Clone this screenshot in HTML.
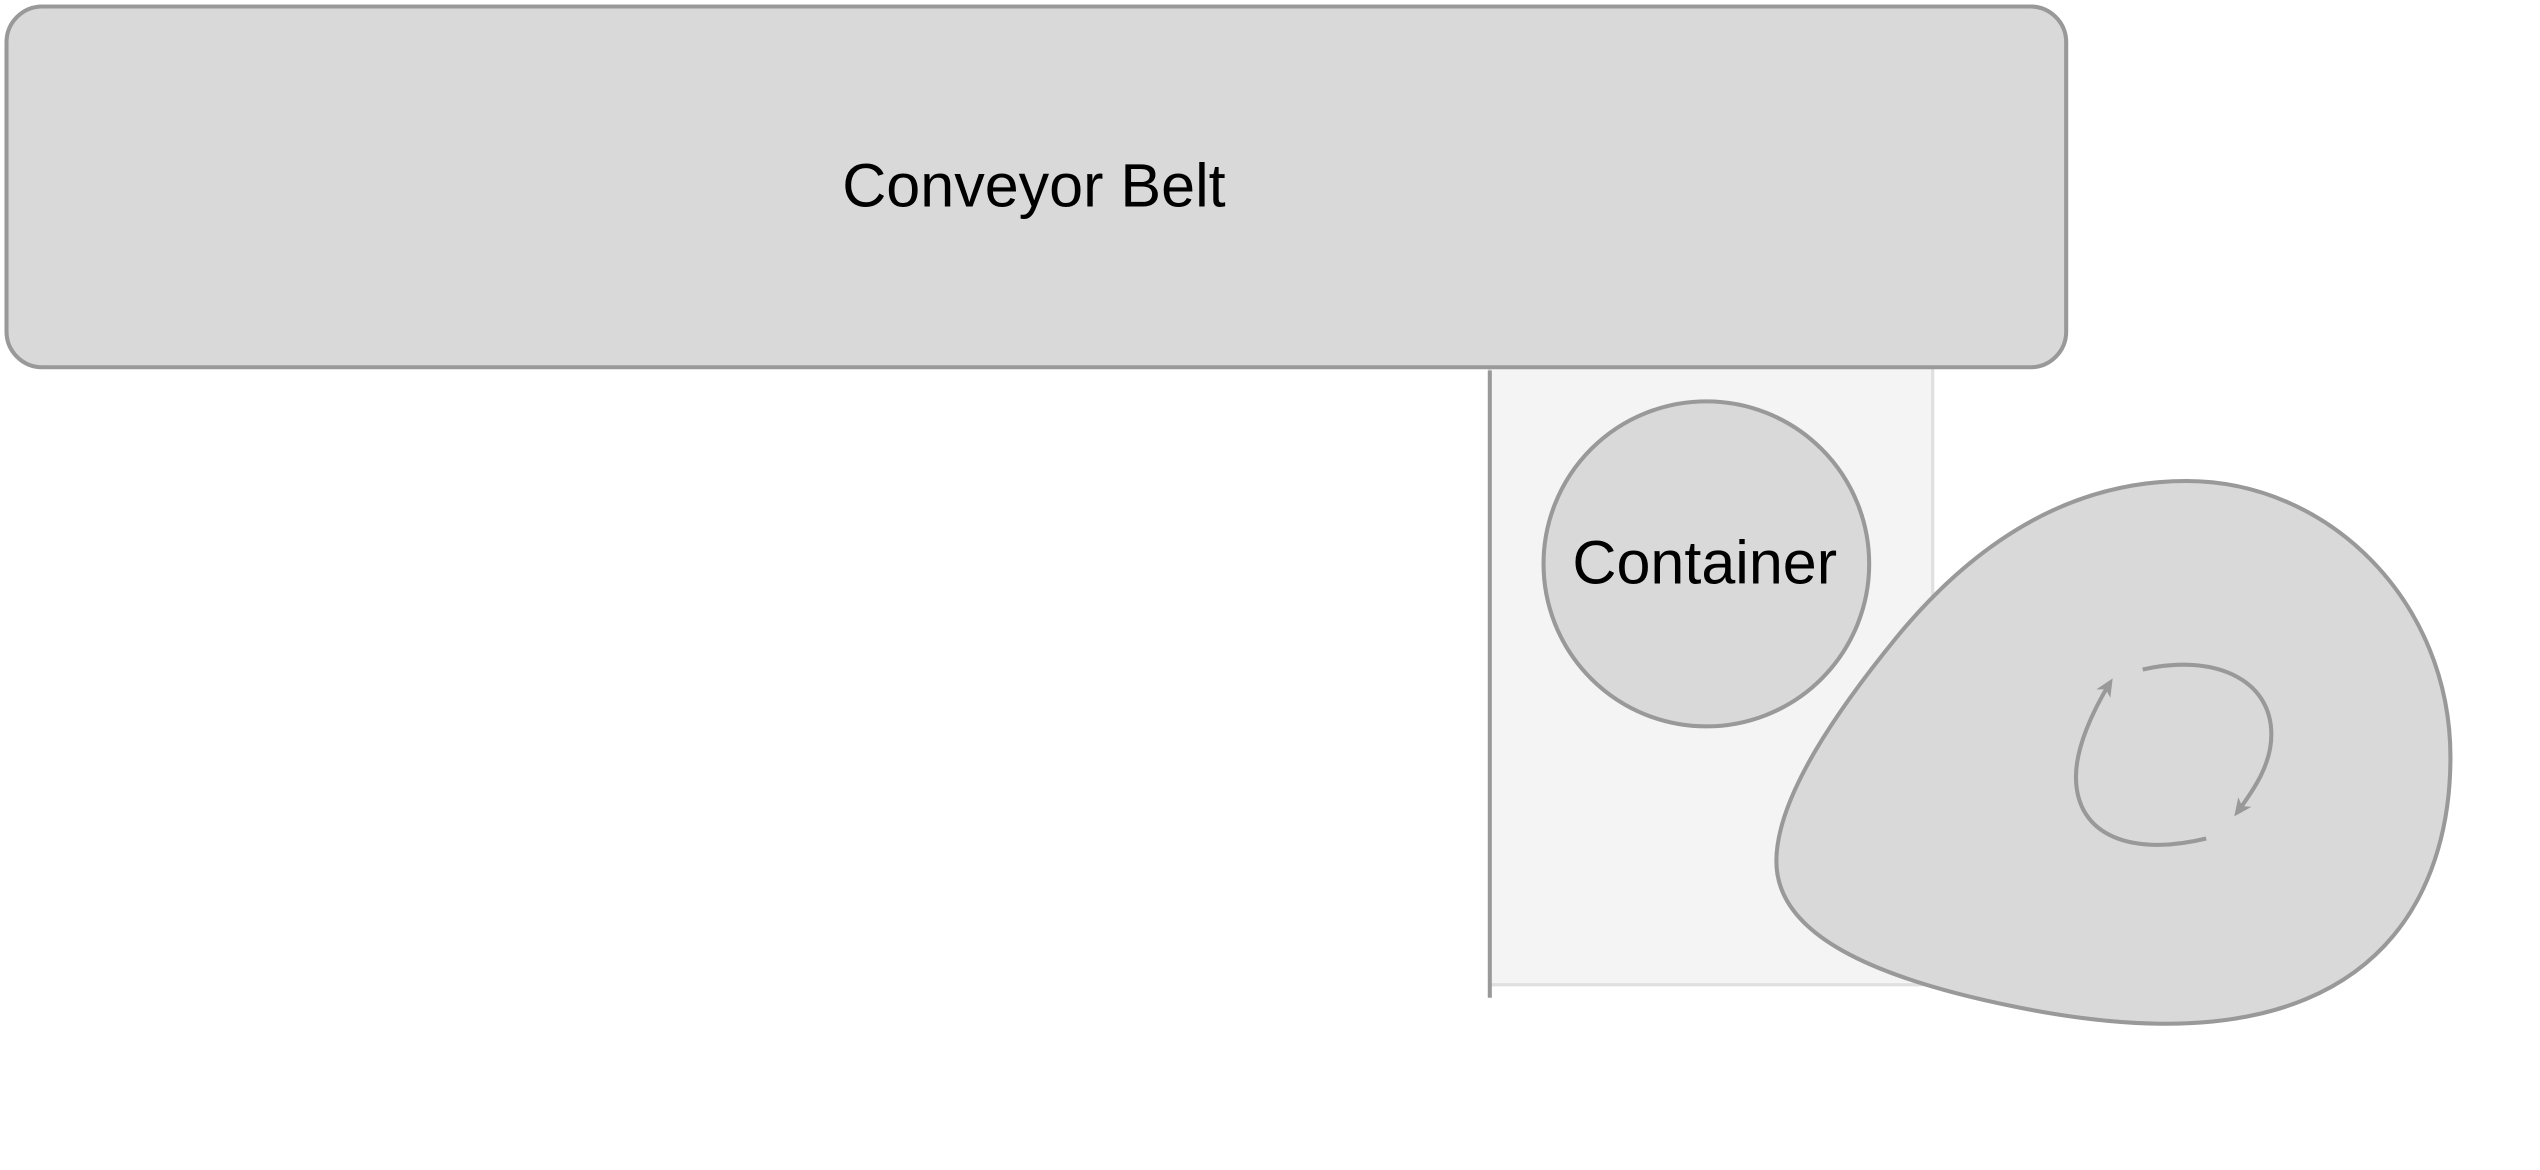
<!DOCTYPE html>
<html><head><style>html,body{margin:0;padding:0;background:#fff;}svg{display:block}</style></head>
<body>
<svg width="2540" height="1170" viewBox="0 0 1560 720" preserveAspectRatio="none" xmlns="http://www.w3.org/2000/svg">
<defs>
<marker id="ah" markerWidth="11" markerHeight="10" refX="8" refY="5" orient="auto" markerUnits="userSpaceOnUse">
<path d="M0,0 L11,5 L0,10 L3,5 Z" fill="#999"/>
</marker>
</defs>
<rect x="915" y="226" width="272" height="380" fill="#f4f4f4" stroke="#e0e0e0" stroke-width="2"/>
<line x1="915" y1="228" x2="915" y2="614" stroke="#999" stroke-width="2.5"/>
<rect x="4" y="4" width="1265" height="222" rx="22" fill="#d9d9d9" stroke="#999" stroke-width="2.5"/>
<text x="635" y="127" font-family="Liberation Sans, sans-serif" font-size="37.5" text-anchor="middle" fill="#000">Conveyor Belt</text>
<circle cx="1048" cy="347" r="100" fill="#d9d9d9" stroke="#999" stroke-width="2.5"/>
<text x="1047" y="359" font-family="Liberation Sans, sans-serif" font-size="37.5" text-anchor="middle" fill="#000">Container</text>
<path d="M1343,296 C1430,296 1505,370 1505,466 C1505,540 1470,630 1330,630 C1300,630 1270,626 1240,620 C1150,602 1091,575 1091,530 C1091,490 1130,435 1165,392 C1220,325 1280,296 1343,296 Z" fill="#d9d9d9" stroke="#999" stroke-width="2.5"/>
<path d="M1316,412 C1360,402 1395,418 1395,452 C1395,470 1385,485 1374,500" fill="none" stroke="#999" stroke-width="2.5" marker-end="url(#ah)"/>
<path d="M1355,516 C1310,527 1275,515 1275,478 C1275,460 1285,438 1296,420" fill="none" stroke="#999" stroke-width="2.5" marker-end="url(#ah)"/>
</svg>
</body></html>
